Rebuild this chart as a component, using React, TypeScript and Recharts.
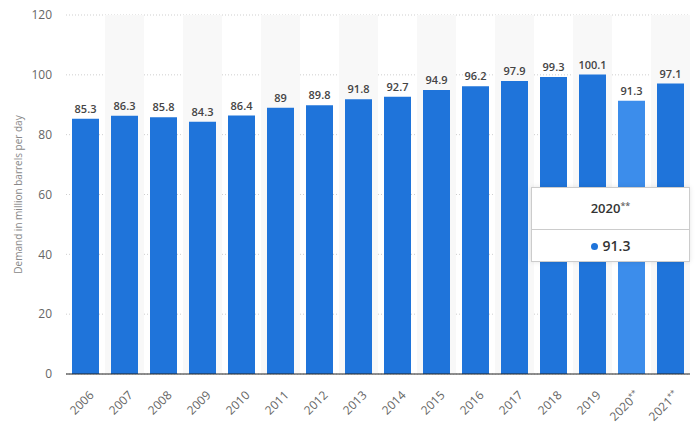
import { BarChart, Bar, XAxis, YAxis, CartesianGrid, ReferenceArea, LabelList, Tooltip, Cell } from "recharts";

const years = ["2006", "2007", "2008", "2009", "2010", "2011", "2012", "2013", "2014", "2015", "2016", "2017", "2018", "2019", "2020**", "2021**"];
const demand = [85.3, 86.3, 85.8, 84.3, 86.4, 89, 89.8, 91.8, 92.7, 94.9, 96.2, 97.9, 99.3, 100.1, 91.3, 97.1];
const yTicks = [0, 20, 40, 60, 80, 100, 120];
const activeYear = "2020**";

const data = years.map((year, i) => ({ year, value: demand[i] }));

const font = "'Open Sans', 'Liberation Sans', Arial, sans-serif";
const blue = "#1f74da";
const lightBlue = "#3c8deb";

// split "2020**" into the year and its small footnote stars
const splitStars = (s: string) => {
  const m = s.match(/^(.*?)(\*+)$/);
  return m ? [m[1], m[2]] : [s, ""];
};

const XTick = (props: any) => {
  const { x, y, payload } = props;
  const [main, stars] = splitStars(payload.value);
  return (
    <g transform={`translate(${x + 9},${y + 14})`}>
      <text x={0} y={0} textAnchor="end" transform="rotate(-45)" fill="#666" fontSize={12} fontFamily={font}>
        {main}
        {stars && <tspan fontSize={8} dy={-4}>{stars}</tspan>}
      </text>
    </g>
  );
};

const TipBox = ({ active, payload }: any) => {
  if (!active || !payload || !payload.length) return null;
  const p = payload[0];
  const [main, stars] = splitStars(p.payload.year);
  return (
    <div style={{ width: 157, height: 73, background: "#fff", border: "1px solid #ccc", boxShadow: "0 0 5px rgba(0,0,0,0.1)", fontFamily: font, color: "#333" }}>
      <div style={{ height: 41, lineHeight: "41px", textAlign: "center", fontWeight: 600, fontSize: 13, borderBottom: "1px solid #ccc" }}>
        {main}
        <span style={{ fontSize: 9, verticalAlign: "top", position: "relative", top: -3, color: "#666" }}>{stars}</span>
      </div>
      <div style={{ height: 31, lineHeight: "31px", textAlign: "center", fontWeight: 600, fontSize: 14 }}>
        <span style={{ display: "inline-block", width: 7, height: 7, borderRadius: 4, background: blue, marginRight: 5, verticalAlign: "middle", position: "relative", top: -1 }} />
        {p.value}
      </div>
    </div>
  );
};

export default function App() {
  return (
    <div style={{ position: "absolute", left: 0, top: 0, width: 700, height: 431, background: "#fff" }}>
      <BarChart width={700} height={431} data={data} margin={{ top: 15, right: 10, bottom: 0, left: 0 }}>
        {years.filter((_, i) => i % 2 === 1).map((y) => (
          <ReferenceArea key={y} x1={y} x2={y} y1={0} y2={120} fill="#f8f8f8" fillOpacity={1} stroke="none" ifOverflow="visible" />
        ))}
        <CartesianGrid vertical={false} stroke="#cfcfcf" strokeDasharray="1 2" />
        <XAxis dataKey="year" height={57} interval={0} tick={<XTick />} tickLine={false} axisLine={{ stroke: "#222" }} />
        <YAxis
          domain={[0, 120]}
          ticks={yTicks}
          width={66}
          tickLine={false}
          axisLine={false}
          tickMargin={8}
          tick={{ fill: "#666", fontSize: 12, fontFamily: font }}
          label={{ value: "Demand in million barrels per day", angle: -90, position: "center", dx: -15, style: { fill: "#888", fontSize: 10, fontFamily: font, textAnchor: "middle" } }}
        />
        <Tooltip defaultIndex={14} position={{ x: 531, y: 187 }} cursor={false} content={<TipBox />} isAnimationActive={false} wrapperStyle={{ outline: "none" }} />
        <Bar dataKey="value" barSize={27} isAnimationActive={false} activeBar={false}>
          {data.map((d) => (
            <Cell key={d.year} fill={d.year === activeYear ? lightBlue : blue} />
          ))}
          <LabelList dataKey="value" position="top" offset={6} style={{ fill: "#444", fontSize: 11, fontWeight: 600, fontFamily: font }} />
        </Bar>
      </BarChart>
    </div>
  );
}
